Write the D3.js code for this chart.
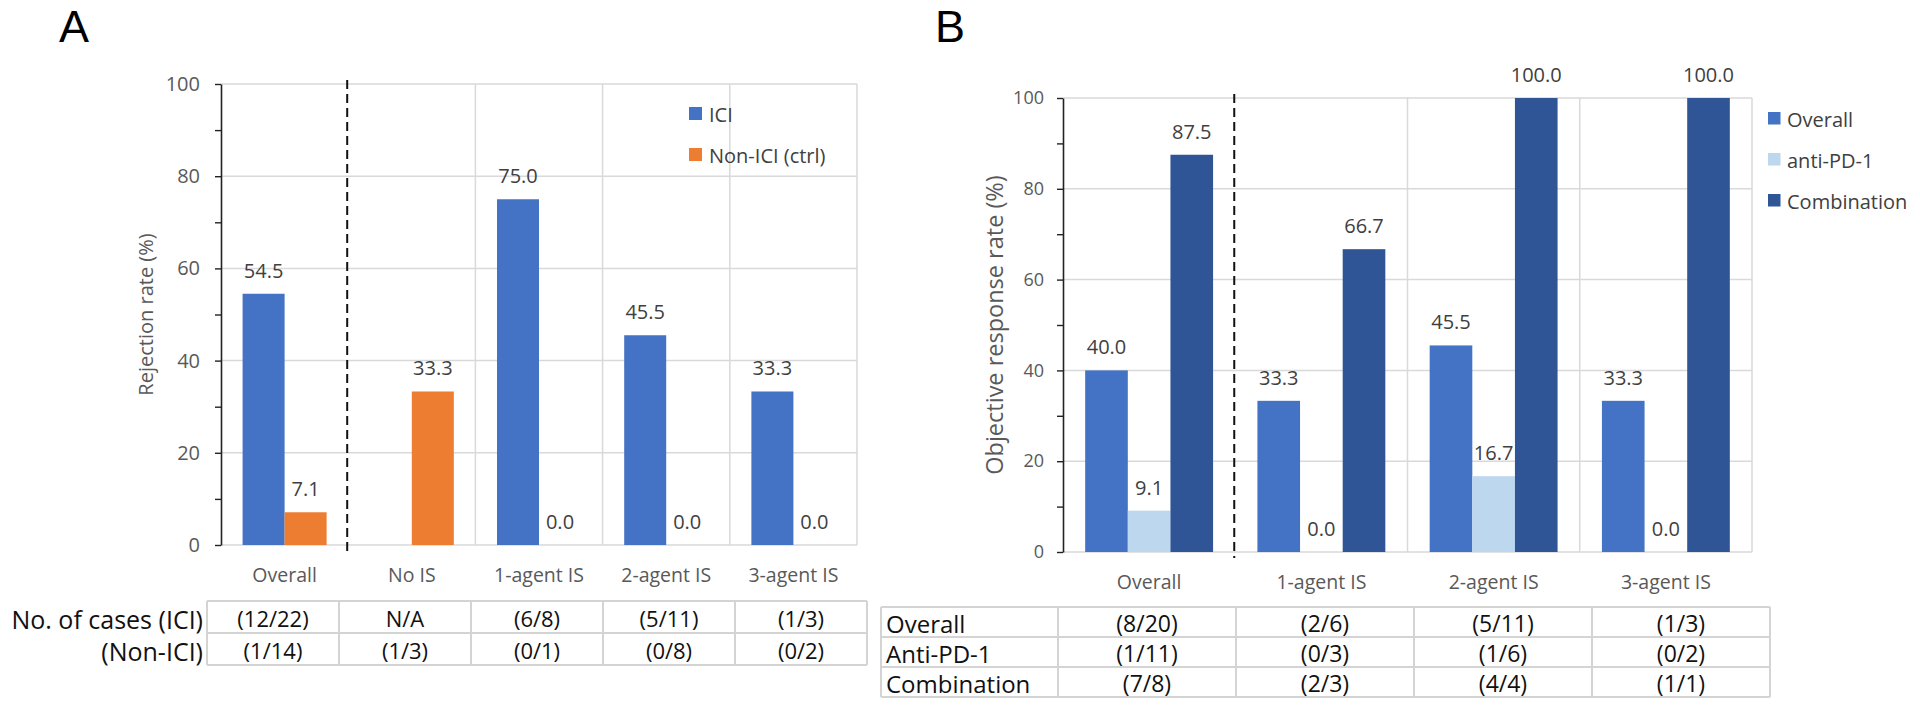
<!DOCTYPE html>
<html><head><meta charset="utf-8">
<script src="https://cdn.jsdelivr.net/npm/d3@7"></script>
<style>body{margin:0;background:#fff;} svg{display:block;}</style>
</head><body>
<svg id="c" width="1920" height="707"></svg>
<script>
// ---------- Data ----------
const catsA = ["Overall", "No IS", "1-agent IS", "2-agent IS", "3-agent IS"];
const seriesA = ["ICI", "Non-ICI (ctrl)"];
const iciA = [54.5, null, 75.0, 45.5, 33.3];
const nonIciA = [7.1, 33.3, 0.0, 0.0, 0.0];
const tableARowLabels = ["No. of cases (ICI)", "(Non-ICI)"];
const tableAIci = ["(12/22)", "N/A", "(6/8)", "(5/11)", "(1/3)"];
const tableANon = ["(1/14)", "(1/3)", "(0/1)", "(0/8)", "(0/2)"];

const catsB = ["Overall", "1-agent IS", "2-agent IS", "3-agent IS"];
const seriesB = ["Overall", "anti-PD-1", "Combination"];
const overallB = [40.0, 33.3, 45.5, 33.3];
const antiPD1B = [9.1, 0.0, 16.7, 0.0];
const combB = [87.5, 66.7, 100.0, 100.0];
const tableBRowLabels = ["Overall", "Anti-PD-1", "Combination"];
const tableBOverall = ["(8/20)", "(2/6)", "(5/11)", "(1/3)"];
const tableBAnti = ["(1/11)", "(0/3)", "(1/6)", "(0/2)"];
const tableBComb = ["(7/8)", "(2/3)", "(4/4)", "(1/1)"];

const yMajor = [0, 20, 40, 60, 80, 100];
const yMinor = [10, 30, 50, 70, 90];

// ---------- Drawing ----------
const svg = d3.select("#c");
svg.append("rect").attr("width", 1920).attr("height", 707).attr("fill", "#fff");
const FONT = "'Open Sans', 'Noto Sans', sans-serif";
const GRID = "#d9d9d9";

function panel(o) {
  const g = svg.append("g");
  const x0 = d3.scaleBand().domain(o.cats).range([o.left, o.right]);
  const x1 = d3.scaleBand().domain(o.series).range([0, x0.bandwidth()]).paddingOuter(o.padOuter);
  const y = d3.scaleLinear().domain([0, 100]).range([o.bottom, o.top]);

  // horizontal gridlines
  g.selectAll(".hg").data(yMajor).join("line")
    .attr("x1", o.left).attr("x2", o.right)
    .attr("y1", d => y(d)).attr("y2", d => y(d))
    .attr("stroke", GRID).attr("stroke-width", 1.5);
  // vertical gridlines at category boundaries (except the dashed one)
  const bounds = o.cats.slice(1).map(c => x0(c)).concat([o.right]);
  g.selectAll(".vg").data(bounds.slice(1)).join("line")
    .attr("x1", d => d).attr("x2", d => d)
    .attr("y1", y(100)).attr("y2", y(0))
    .attr("stroke", GRID).attr("stroke-width", 1.5);

  // bars
  const flat = [];
  o.cats.forEach((c, i) => o.series.forEach((s, j) => {
    flat.push({ c, s, v: o.values[j][i], color: o.colors[j] });
  }));
  const valid = flat.filter(d => d.v !== null);
  g.selectAll(".bar").data(valid).join("rect")
    .attr("x", d => x0(d.c) + x1(d.s))
    .attr("width", x1.bandwidth())
    .attr("y", d => y(d.v))
    .attr("height", d => y(0) - y(d.v))
    .attr("fill", d => d.color);
  g.selectAll(".lbl").data(valid).join("text")
    .attr("x", d => x0(d.c) + x1(d.s) + x1.bandwidth() / 2)
    .attr("y", d => y(d.v) - 16)
    .attr("text-anchor", "middle")
    .attr("font-family", FONT).attr("font-size", 20).attr("fill", "#404040")
    .text(d => d.v.toFixed(1));

  // dashed separator
  const dx = x0(o.cats[1]) - 1;
  g.append("line").attr("x1", dx).attr("x2", dx)
    .attr("y1", y(100) - 4).attr("y2", y(0) + 6)
    .attr("stroke", "#111").attr("stroke-width", 2).attr("stroke-dasharray", "9,5");

  // y axis
  const ax = g.append("g").attr("transform", `translate(${o.left},0)`)
    .call(d3.axisLeft(y).tickValues(yMajor).tickSize(6).tickSizeOuter(0).tickPadding(o.tickPad));
  ax.select(".domain").attr("stroke", "#222").attr("stroke-width", 1.6);
  ax.selectAll(".tick line").attr("stroke", "#222").attr("stroke-width", 1.4);
  ax.selectAll(".tick text").attr("font-family", FONT).attr("font-size", o.tickFont).attr("fill", "#595959");
  const axm = g.append("g").attr("transform", `translate(${o.left},0)`)
    .call(d3.axisLeft(y).tickValues(yMinor).tickSize(6).tickSizeOuter(0).tickFormat(""));
  axm.select(".domain").remove();
  axm.selectAll(".tick line").attr("stroke", "#222").attr("stroke-width", 1.4);

  // x labels
  g.selectAll(".xl").data(o.cats).join("text")
    .attr("x", d => x0(d) + x0.bandwidth() / 2)
    .attr("y", o.xLabelY)
    .attr("text-anchor", "middle")
    .attr("font-family", FONT).attr("font-size", o.xFont).attr("fill", "#595959")
    .text(d => d);

  // y title
  g.append("text")
    .attr("transform", `translate(${o.yTitleX},${(y(0) + y(100)) / 2}) rotate(-90)`)
    .attr("text-anchor", "middle").attr("dominant-baseline", "central")
    .attr("font-family", FONT).attr("font-size", o.yTitleFont).attr("fill", "#595959")
    .text(o.yTitle);

  // legend
  const lg = g.selectAll(".lg").data(o.series).join("g")
    .attr("transform", (d, i) => `translate(${o.legX},${o.legY + i * o.legStep})`);
  lg.append("rect").attr("width", o.legSq).attr("height", o.legSq)
    .attr("fill", (d, i) => o.colors[i]);
  lg.append("text").attr("x", o.legTextDx).attr("y", o.legSq / 2 + 1)
    .attr("dominant-baseline", "central")
    .attr("font-family", FONT).attr("font-size", o.legFont).attr("fill", "#404040")
    .text(d => d);

  // panel letter
  svg.append("text").attr("x", o.letterX).attr("y", o.letterY)
    .attr("font-family", "'Liberation Sans', Arial, sans-serif").attr("font-size", 45).attr("fill", "#000")
    .text(o.letter);
}

panel({
  letter: "A", letterX: 59, letterY: 42,
  cats: catsA, series: seriesA, values: [iciA, nonIciA], colors: ["#4472C4", "#ED7D31"],
  left: 221, right: 857, top: 84, bottom: 545, padOuter: 0.514,
  tickPad: 15, tickFont: 20, xLabelY: 582, xFont: 19.5,
  yTitle: "Rejection rate (%)", yTitleX: 145, yTitleFont: 20,
  legX: 689, legY: 107, legStep: 41, legSq: 13, legTextDx: 20, legFont: 20
});

panel({
  letter: "B", letterX: 935, letterY: 42,
  cats: catsB, series: seriesB, values: [overallB, antiPD1B, combB], colors: ["#4472C4", "#BDD7EE", "#2F5597"],
  left: 1063, right: 1752, top: 98, bottom: 552, padOuter: 0.52,
  tickPad: 13, tickFont: 18, xLabelY: 589, xFont: 19.5,
  yTitle: "Objective response rate (%)", yTitleX: 994, yTitleFont: 23.5,
  legX: 1768, legY: 112, legStep: 41, legSq: 12.5, legTextDx: 19, legFont: 20
});

// ---------- Tables ----------
const TB = "#d4d4d4";
function table(o) {
  const g = svg.append("g");
  const nCols = o.rows[0].length;
  const totalW = o.labelW + nCols * o.colW;
  const nRows = o.rows.length;
  const hy = d3.range(nRows + 1).map(i => o.top + i * o.rowH);
  g.selectAll(".h").data(hy).join("line")
    .attr("x1", o.x).attr("x2", o.x + totalW).attr("y1", d => d).attr("y2", d => d)
    .attr("stroke", TB).attr("stroke-width", 2);
  const vx = d3.range(nCols + 1).map(i => o.x + o.labelW + i * o.colW);
  if (o.labelW > 0) vx.unshift(o.x);
  g.selectAll(".v").data(vx).join("line")
    .attr("x1", d => d).attr("x2", d => d).attr("y1", o.top).attr("y2", o.top + nRows * o.rowH)
    .attr("stroke", TB).attr("stroke-width", 2);
  o.rows.forEach((row, r) => {
    const cy = o.top + r * o.rowH + o.rowH / 2;
    g.selectAll(".c" + r).data(row).join("text")
      .attr("x", (d, i) => o.x + o.labelW + i * o.colW + o.colW / 2)
      .attr("y", cy + 1)
      .attr("text-anchor", "middle").attr("dominant-baseline", "central")
      .attr("font-family", FONT).attr("font-size", o.cellFont).attr("fill", "#111")
      .text(d => d);
    g.append("text")
      .attr("x", o.labelX).attr("y", cy + o.labelDy)
      .attr("text-anchor", o.labelAnchor).attr("dominant-baseline", "central")
      .attr("font-family", FONT).attr("font-size", o.labelFont).attr("fill", "#111")
      .text(o.labels[r]);
  });
}

table({
  x: 207, top: 601, rowH: 32, labelW: 0, colW: 132,
  rows: [tableAIci, tableANon], labels: tableARowLabels,
  labelX: 203, labelAnchor: "end", labelDy: 2, labelFont: 25, cellFont: 22
});
table({
  x: 881, top: 607, rowH: 30, labelW: 177, colW: 178,
  rows: [tableBOverall, tableBAnti, tableBComb], labels: tableBRowLabels,
  labelX: 886, labelAnchor: "start", labelDy: 1, labelFont: 24, cellFont: 23
});
</script>
</body></html>
